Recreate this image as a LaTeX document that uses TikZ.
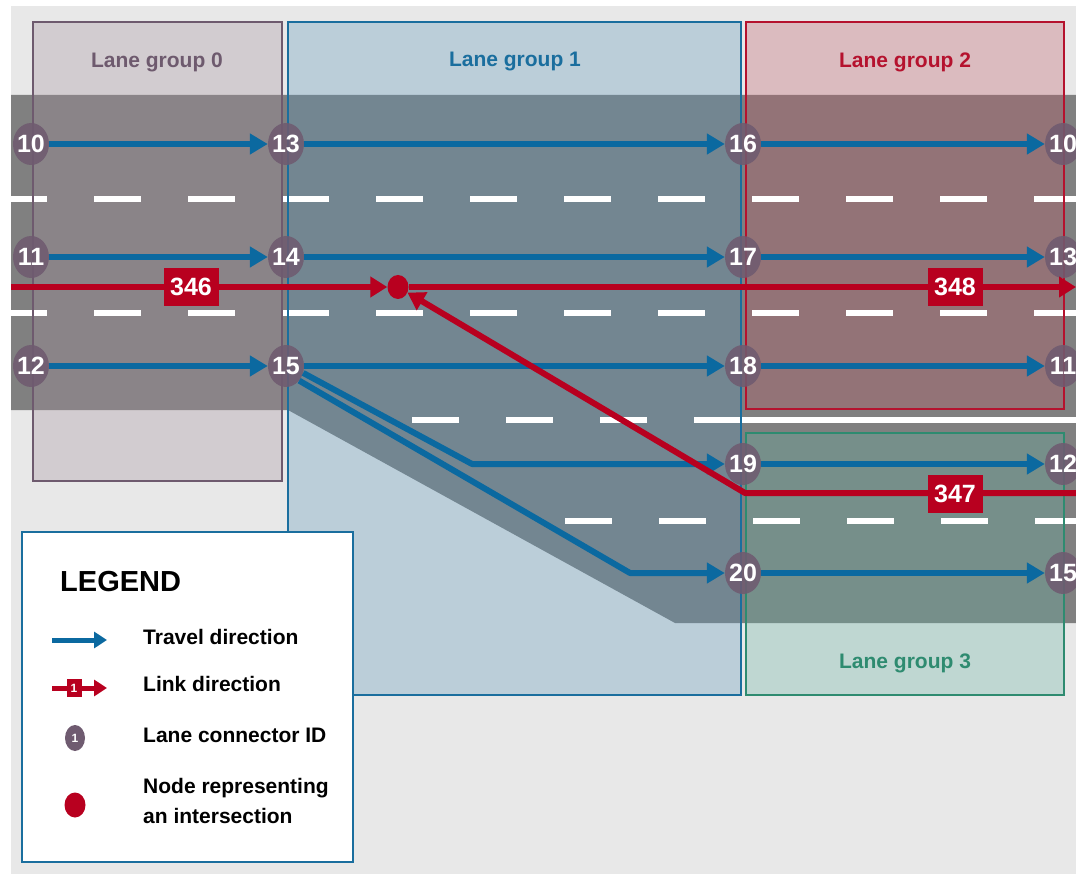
\documentclass[tikz,border=0pt]{standalone}
\usepackage{fontspec}
\setmainfont{Liberation Sans}
\usetikzlibrary{arrows.meta, positioning, shapes.geometric}

\definecolor{bgcol}{HTML}{E8E8E8}
\definecolor{roadcol}{HTML}{808080}
\definecolor{g0fill}{HTML}{A28E9B}
\definecolor{g1fill}{HTML}{5594B9}
\definecolor{g2fill}{HTML}{C05663}
\definecolor{g3fill}{HTML}{62B2A2}
\definecolor{g0line}{HTML}{6E5A6E}
\definecolor{g1line}{HTML}{1A6E9E}
\definecolor{g2line}{HTML}{B5122E}
\definecolor{g3line}{HTML}{2E8B70}
\definecolor{travelcol}{HTML}{0B69A0}
\definecolor{linkcol}{HTML}{B8001F}
\definecolor{nodecol}{HTML}{6F5B70}

\begin{document}
\begin{tikzpicture}[x=1pt, y=-1pt,
  conn/.style={ellipse, fill=nodecol, fill opacity=0.88, text opacity=1, text=white, inner sep=0pt,
    minimum width=36pt, minimum height=42pt,
    font=\bfseries\fontsize{25}{30}\selectfont},
  travel/.style={draw=travelcol, line width=6pt, -{Triangle[length=18pt,width=20pt]}},
  link/.style={draw=linkcol, line width=6pt, -{Triangle[length=17pt,width=20pt]}},
  linkid/.style={fill=linkcol, text=white, inner sep=0pt,
    minimum width=55pt, minimum height=38pt,
    font=\bfseries\fontsize{25}{30}\selectfont},
  lanemark/.style={draw=white, line width=6.5pt},
  grouptitle/.style={font=\bfseries\fontsize{21}{25}\selectfont},
  legtext/.style={anchor=west, inner sep=0pt, font=\bfseries\fontsize{21}{30}\selectfont}]

  \useasboundingbox (0,0) rectangle (1076,874);
  \fill[bgcol] (11,6) rectangle (1076,874);

  \begin{scope}
  \clip (11,6) rectangle (1076,874);

  % Road surface
  \fill[roadcol] (11,95) -- (1076,95) -- (1076,623) -- (675,623) -- (288,410) -- (11,410) -- cycle;

  % Lane groups
  \fill[g0fill, fill opacity=0.3] (33,22) rectangle (282,481);
  \fill[g1fill, fill opacity=0.3] (288,22) rectangle (741,695);
  \fill[g2fill, fill opacity=0.3] (746,22) rectangle (1064,409);
  \fill[g3fill, fill opacity=0.3] (746,433) rectangle (1064,695);

  % Lane markings
  \draw[lanemark, dash pattern=on 47pt off 47pt, dash phase=11pt] (11,199) -- (1076,199);
  \draw[lanemark, dash pattern=on 47pt off 47pt, dash phase=11pt] (11,313) -- (1076,313);
  \draw[lanemark, dash pattern=on 47pt off 47pt] (412,420) -- (694,420);
  \draw[lanemark] (694,420) -- (1076,420);
  \draw[lanemark, dash pattern=on 47pt off 47pt] (565,521) -- (1076,521);

  % Lane group borders
  \draw[g0line, line width=1.5pt] (33,22) rectangle (282,481);
  \draw[g1line, line width=1.5pt] (288,22) rectangle (741,695);
  \draw[g2line, line width=1.5pt] (746,22) rectangle (1064,409);
  \draw[g3line, line width=1.5pt] (746,433) rectangle (1064,695);

  % Lane connectors
  \foreach \n/\x/\y/\id in {A1/31/144/10, A2/31/257/11, A3/31/366/12,
      B1/286/144/13, B2/286/257/14, B3/286/366/15,
      C1/743/144/16, C2/743/257/17, C3/743/366/18, C4/743/464/19, C5/743/573/20,
      D1/1063/144/10, D2/1063/257/13, D3/1063/366/11, D4/1063/464/12, D5/1063/573/15}
    \node[conn] (\n) at (\x,\y) {\makebox[0pt]{\id}};

  % Travel directions
  \foreach \a/\b in {A1/B1, B1/C1, C1/D1, A2/B2, B2/C2, C2/D2,
      A3/B3, B3/C3, C3/D3, C4/D4, C5/D5}
    \draw[travel] (\a) -- (\b);
  \coordinate (bend19) at (472,464);
  \coordinate (bend20) at (630,573);
  \draw[travel, line join=round] (B3.-22) -- (bend19) -- (C4);
  \draw[travel, line join=round] (B3.-48) -- (bend20) -- (C5);

  % Links and intersection
  \node[ellipse, fill=linkcol, inner sep=0pt, minimum width=21pt, minimum height=24pt] (isect) at (398,287) {};
  \coordinate (w346) at (11,287);
  \coordinate (e348) at (1076,287);
  \coordinate (e347) at (1076,493);
  \coordinate (k347) at (745,493);

  \draw[link] (w346) -- (isect);
  \draw[link] (isect) -- (e348);
  \draw[link, line join=round] (e347) -- (k347) -- (isect);
  \node[linkid] (l346) at (191,287) {346};
  \node[linkid] (l348) at (955,287) {348};
  \node[linkid] (l347) at (955,494) {347};
  \end{scope}

  % Group titles
  \node[grouptitle, text=g0line] (t0) at (157,62) {Lane group 0};
  \node[grouptitle, text=g1line] (t1) at (515,62) {Lane group 1};
  \node[grouptitle, text=g2line] (t2) at (905,62) {Lane group 2};
  \node[grouptitle, text=g3line] (t3) at (905,663) {Lane group 3};

  % Legend
  \draw[g1line, line width=1.5pt, fill=white] (22,532) rectangle (353,862);
  \node[anchor=west, inner sep=0pt, font=\bfseries\fontsize{29}{34}\selectfont] (legtitle) at (60,582) {LEGEND};

  \coordinate (tr0) at (52,640);
  \coordinate (tr1) at (107,640);
  \draw[travel, line width=5pt, -{Triangle[length=13pt,width=16pt]}] (tr0) -- (tr1);
  \node[legtext] (lt1) at (143,637) {Travel direction};

  \coordinate (lk0) at (52,688);
  \coordinate (lk1) at (107,688);
  \draw[link, line width=5pt, -{Triangle[length=13pt,width=16pt]}] (lk0) -- (lk1);
  \node[fill=linkcol, text=white, inner sep=0pt, minimum width=15pt, minimum height=18pt,
    font=\bfseries\fontsize{12}{14}\selectfont] (lkid) at (74,688) {1};
  \node[legtext] (lt2) at (143,684) {Link direction};

  \node[conn, fill opacity=1, minimum width=20pt, minimum height=26pt, font=\bfseries\fontsize{12}{14}\selectfont] (legconn) at (75,738) {1};
  \node[legtext] (lt3) at (143,735) {Lane connector ID};

  \node[ellipse, fill=linkcol, inner sep=0pt, minimum width=21pt, minimum height=25pt] (legdot) at (75,805) {};
  \node[legtext, align=left] (lt4) at (143,801) {Node representing\\an intersection};
\end{tikzpicture}
\end{document}
